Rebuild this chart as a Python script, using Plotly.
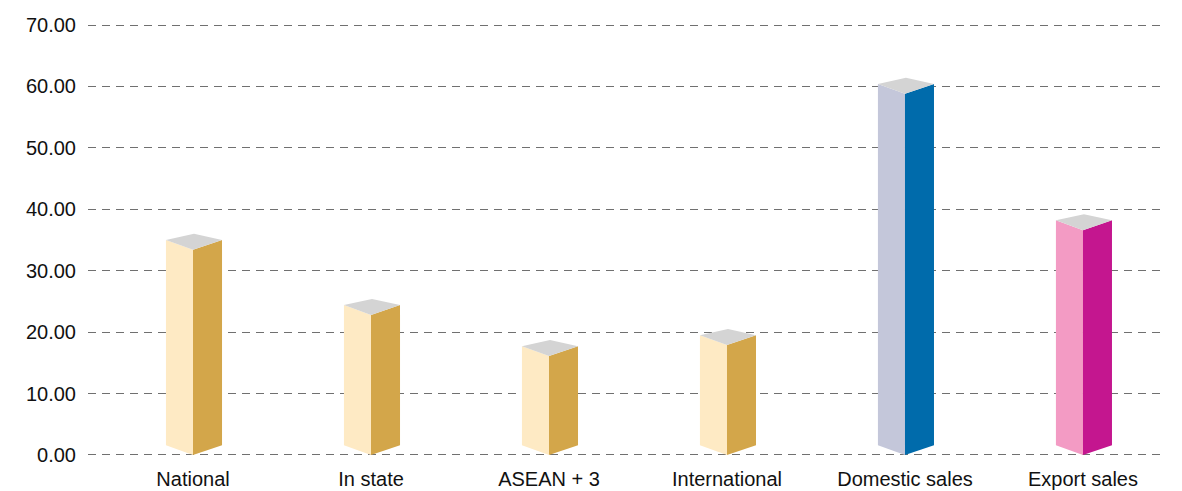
import plotly.graph_objects as go

# Category labels and values (height of each column's front edge)
categories = ["National", "In state", "ASEAN + 3", "International", "Domestic sales", "Export sales"]
values = [33.4, 22.8, 16.1, 17.9, 58.8, 36.6]

# Face colours per column: (left face, right face)
left_colors = ["#FEEAC4", "#FEEAC4", "#FEEAC4", "#FEEAC4", "#C4C7DA", "#F39BC4"]
right_colors = ["#D3A64A", "#D3A64A", "#D3A64A", "#D3A64A", "#006BAB", "#C4168F"]
top_color = "#D4D4D4"

y_ticks = [0, 10, 20, 30, 40, 50, 60, 70]

# Prism geometry (x in category units, y in data units)
W_LEFT = 0.152
W_RIGHT = 0.163
DEPTH = 1.6      # rise of side corners above the front edge
BACK = 2.6       # rise of back top vertex above the front top

fig = go.Figure()


def face(xs, ys, color):
    fig.add_trace(go.Scatter(
        x=xs, y=ys, fill="toself", fillcolor=color, mode="lines",
        line=dict(width=0, color=color), hoverinfo="skip", showlegend=False,
    ))


for i, (v, lc, rc) in enumerate(zip(values, left_colors, right_colors)):
    xl, xr = i - W_LEFT, i + W_RIGHT
    # left face
    face([xl, i, i, xl, xl], [DEPTH, 0, v, v + DEPTH, DEPTH], lc)
    # right face
    face([i, xr, xr, i, i], [0, DEPTH, v + DEPTH, v, 0], rc)
    # top
    xb = i + (W_RIGHT - W_LEFT) / 2
    face([i, xl, xb, xr, i], [v, v + DEPTH, v + BACK, v + DEPTH, v], top_color)

# small padding so the 0 and 70 gridlines are kept
PAD = 0.33

fig.update_layout(
    width=1182, height=491,
    margin=dict(l=88, r=20, t=23, b=34),
    paper_bgcolor="white", plot_bgcolor="white",
    font=dict(family="Liberation Sans, Arial, sans-serif", size=20, color="#111111"),
    showlegend=False,
    xaxis=dict(
        range=[-0.59, 5.444], tickmode="array",
        tickvals=list(range(len(categories))), ticktext=categories,
        showgrid=False, zeroline=False, showline=False, ticks="",
        ticklabelstandoff=8, automargin=False, fixedrange=True,
    ),
    yaxis=dict(
        range=[-PAD, 70 + PAD], tickmode="array", tickvals=y_ticks,
        tickformat=".2f", showgrid=True, gridcolor="#707070", gridwidth=1,
        griddash="8px,6px", zeroline=False, showline=False, ticks="",
        ticklabelstandoff=11, automargin=False, fixedrange=True,
    ),
)

fig.write_html("out.html")
